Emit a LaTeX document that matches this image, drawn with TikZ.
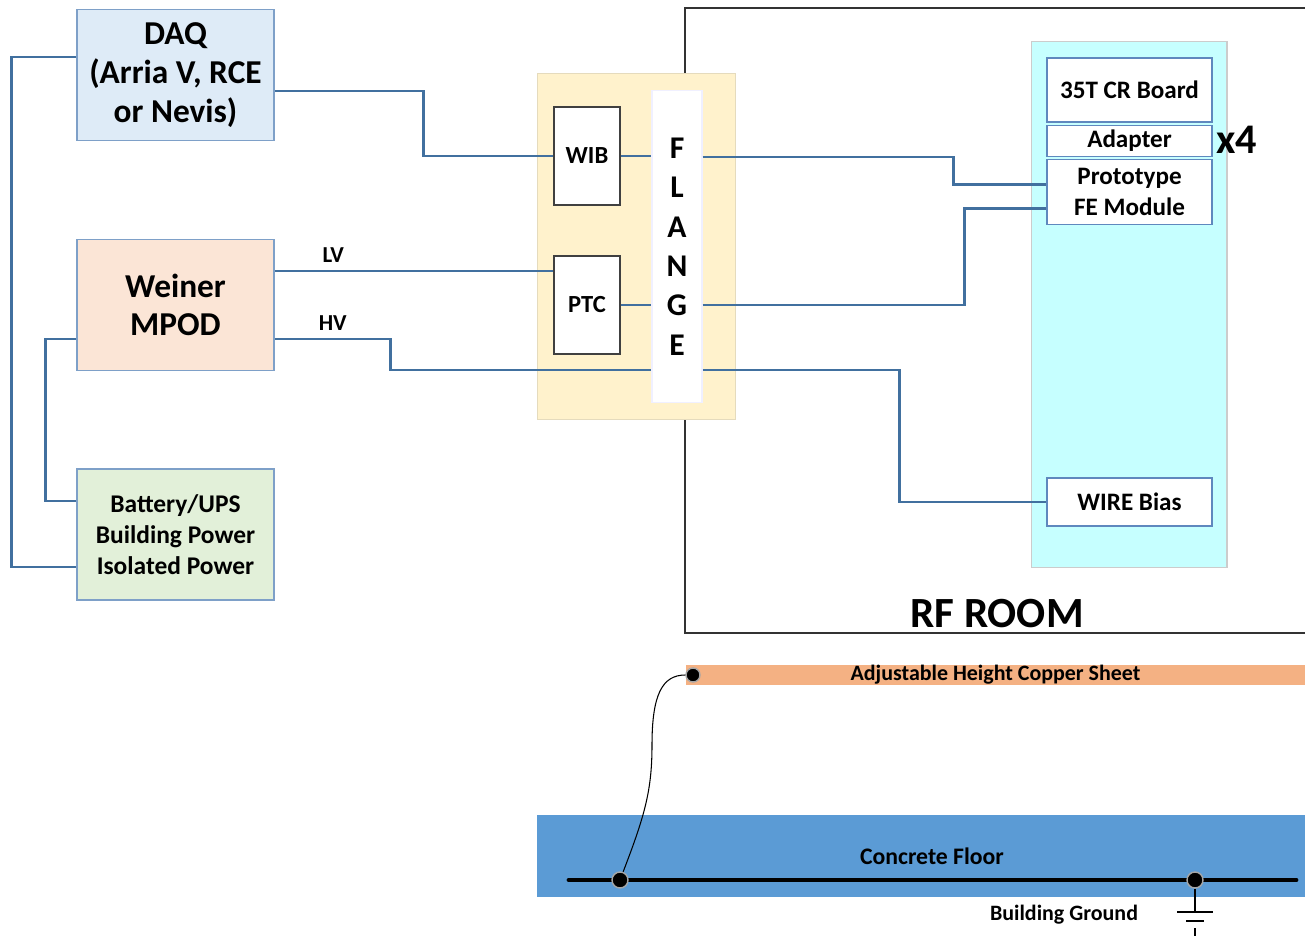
\documentclass[tikz,border=0pt]{standalone}
\usepackage{fontspec}
\setmainfont{Carlito}
\usetikzlibrary{positioning,calc}
\definecolor{wireblue}{HTML}{41709F}
\definecolor{boxedge}{HTML}{7EA0C8}
\definecolor{daqfill}{HTML}{DEEBF7}
\definecolor{mpodfill}{HTML}{FBE5D6}
\definecolor{powfill}{HTML}{E2F0D9}
\definecolor{tanfill}{HTML}{FFF2CC}
\definecolor{cyanfill}{HTML}{C6FFFF}
\definecolor{febedge}{HTML}{5F88BE}
\definecolor{copper}{HTML}{F4B183}
\definecolor{floorblue}{HTML}{5B9BD5}
\definecolor{roomedge}{HTML}{333333}

\begin{document}
\begin{tikzpicture}[x=0.02cm,y=-0.02cm]
    \tikzset{
      srcbox/.style={draw=boxedge,line width=0.9pt,minimum width=3.94cm,minimum height=2.62cm,inner sep=0pt,align=center,font=\bfseries\fontsize{19}{22}\selectfont},
      smallbox/.style={draw=black!75,line width=0.8pt,fill=white,minimum width=1.32cm,minimum height=1.96cm,inner sep=0pt,font=\bfseries\fontsize{14}{16}\selectfont},
      febox/.style={draw=febedge,line width=0.8pt,fill=white,minimum width=3.3cm,inner sep=0pt,align=center,font=\bfseries\fontsize{14.3}{17.6}\selectfont},
      wire/.style={draw=wireblue,line width=1.5pt},
      wirelabel/.style={font=\bfseries\fontsize{13}{15}\selectfont},
      dot/.style={circle,fill=black,draw=black!35,line width=0.8pt,minimum size=0.32cm,inner sep=0pt}
    }
    \useasboundingbox (0,0) rectangle (1305,936);

    % rf room
    \draw[roomedge,line width=0.8pt] (1305,8) -- (685,8) -- (685,633) -- (1305,633);
    \node[font=\bfseries\fontsize{24.5}{28}\selectfont] (room) at (997,614) {RF ROOM};

    % sources on the left
    \node[srcbox,fill=daqfill] (daq) at (175.5,75) {DAQ\\(Arria V, RCE\\or Nevis)};
    \node[srcbox,fill=mpodfill] (mpod) at (175.5,305) {Weiner\\MPOD};
    \node[srcbox,fill=powfill,font=\bfseries\fontsize{14.5}{17.6}\selectfont] (power) at (175.5,534.5) {Battery/UPS\\Building Power\\Isolated Power};

    % flange area
    \node[fill=tanfill,draw=tanfill!80!gray,line width=0.4pt,minimum width=3.96cm,minimum height=6.92cm,inner sep=0pt] (tan) at (636,246) {};
    \node[smallbox] (wib) at (587,156) {WIB};
    \node[smallbox] (ptc) at (587,305) {PTC};
    \node[fill=white,draw=blue!6,line width=0.6pt,minimum width=1.0cm,minimum height=6.26cm,inner sep=0pt,align=center,
      font=\bfseries\fontsize{18}{22.4}\selectfont] (flange) at (677,246.5) {F\\L\\A\\N\\G\\E};

    % front end stack
    \node[fill=cyanfill,draw=black!20,line width=0.6pt,minimum width=3.92cm,minimum height=10.54cm,inner sep=0pt] (tpc) at (1129,304.5) {};
    \node[febox,minimum height=1.28cm] (crb) at (1129.5,90) {35T CR Board};
    \node[febox,minimum height=0.62cm,below=0.04cm of crb] (adapter) {Adapter};
    \node[febox,minimum height=1.3cm,below=0.04cm of adapter] (proto) {Prototype\\FE Module};
    \node[font=\bfseries\fontsize{24}{28}\selectfont] (mult) at (1237,140) {x4};
    \node[febox,minimum height=0.96cm] (bias) at (1129.5,502) {WIRE Bias};

    % cabling
    \draw[wire] ($(daq.west)+(0,-18)$) -- ++(-65,0) |- ($(power.west)+(0,32.5)$);
    \draw[wire] ($(mpod.west)+(0,34)$) -- ++(-31,0) |- ($(power.west)+(0,-33.5)$);
    \draw[wire] ($(daq.east)+(0,16)$) -- ++(149,0) |- (wib.west);
    \draw[wire] ($(mpod.east)+(0,-34)$) -- node[wirelabel,above=1pt,pos=0.21] (lv) {LV} ($(ptc.west)+(0,-34)$);
    \draw[wire] ($(mpod.east)+(0,34)$) -- node[wirelabel,above=1pt,pos=0.5] (hv) {HV} ++(116,0) |- ($(flange.west)+(0,123.5)$);
    \draw[wire] (wib.east) -- (wib.east -| flange.west);
    \draw[wire] (ptc.east) -- (ptc.east -| flange.west);
    \draw[wire] ($(flange.east)+(0,-89.5)$) -- ++(251,0) |- ($(proto.west)+(0,-7.5)$);
    \draw[wire] ($(flange.east)+(0,58.5)$) -- ++(262,0) |- ($(proto.west)+(0,16.5)$);
    \draw[wire] ($(flange.east)+(0,123.5)$) -- ++(197,0) |- (bias.west);

    % copper sheet and floor
    \node[fill=copper,minimum width=12.38cm,minimum height=0.36cm,inner sep=0pt,
      font=\bfseries\fontsize{12.5}{14}\selectfont] (sheet) at (995.5,675) {Adjustable Height Copper Sheet};
    \node[fill=floorblue,minimum width=15.36cm,minimum height=1.64cm,inner sep=0pt] (floor) at (921,856) {};
    \node[font=\bfseries\fontsize{13.5}{15}\selectfont] (floortext) at (932,856) {Concrete Floor};
    \coordinate (busl) at (569,880);
    \coordinate (busr) at (1296,880);
    \draw[line width=2.8pt,line cap=round] (busl) -- (busr);
    \node[dot,minimum size=0.28cm] (sheetdot) at (693,675) {};
    \node[dot] (floordot) at (620,880) {};
    \node[dot] (gnddot) at (1195,880) {};
    \draw[line width=0.6pt] (floordot) .. controls (645,815) and (652,790) .. (652,745)
      .. controls (652,695) and (662,675) .. (sheetdot);

    % building ground
    \coordinate (gndtop) at (1195,912);
    \draw[line width=0.8pt] (gnddot) -- (gndtop);
    \draw[line width=0.8pt] (1177,912) -- (1213,912);
    \draw[line width=0.8pt] (1186,921) -- (1204,921);
    \draw[line width=0.8pt] (1195,928) -- (1195,936);
    \node[font=\bfseries\fontsize{12.5}{14}\selectfont] (gndtext) at (1064,915) {Building Ground};
\end{tikzpicture}
\end{document}
